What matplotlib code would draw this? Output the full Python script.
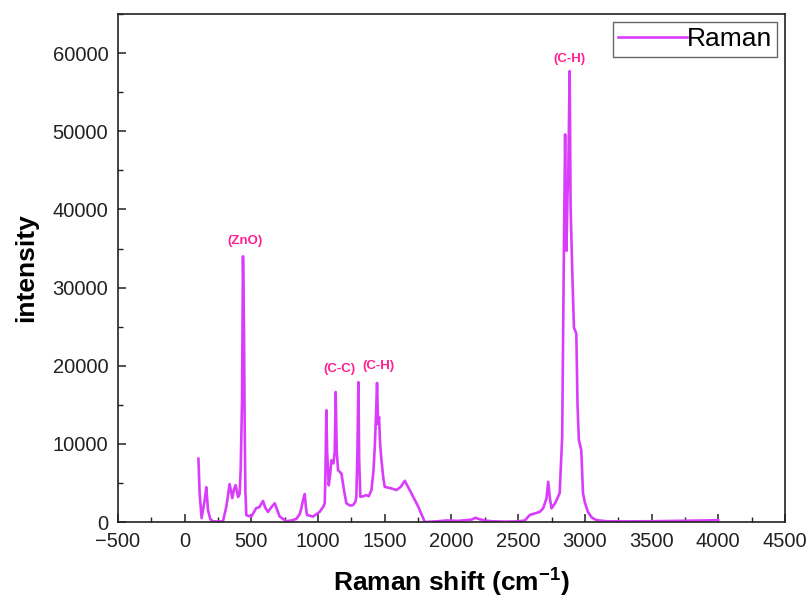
import matplotlib
matplotlib.use('Agg')
import matplotlib.pyplot as plt
from matplotlib.ticker import MultipleLocator

plt.rcParams['font.family'] = ['Liberation Sans', 'DejaVu Sans']
plt.rcParams['mathtext.fontset'] = 'custom'
plt.rcParams['mathtext.rm'] = 'Liberation Sans'
plt.rcParams['mathtext.bf'] = 'Liberation Sans:bold'

# Raman spectrum
shift = [103, 108, 112, 127, 150, 162, 175, 192, 212, 250, 287, 312, 325, 337, 357,
         370, 382, 400, 412, 420, 430, 437, 441, 445, 450, 455, 462, 475, 500, 537,
         560, 587, 605, 625, 650, 675, 695, 712, 762, 800, 837, 862, 875, 890, 900,
         908, 917, 962, 1012, 1040, 1050, 1055, 1062, 1068, 1080, 1090, 1100, 1115,
         1125, 1132, 1140, 1150, 1175, 1195, 1212, 1240, 1262, 1280, 1287, 1295,
         1302, 1308, 1317, 1340, 1362, 1380, 1400, 1415, 1425, 1435, 1442, 1450,
         1457, 1465, 1475, 1490, 1500, 1550, 1587, 1620, 1650, 1687, 1750, 1800,
         1850, 1900, 1962, 2050, 2112, 2150, 2180, 2200, 2250, 2300, 2400, 2500,
         2550, 2587, 2625, 2662, 2687, 2712, 2725, 2738, 2750, 2780, 2811, 2830,
         2842, 2852, 2857, 2862, 2870, 2875, 2880, 2886, 2893, 2906, 2918, 2936,
         2945, 2955, 2973, 2986, 3000, 3023, 3050, 3086, 3161, 3300, 3500, 3700,
         3900, 4000]
intensity = [8100, 5500, 3700, 500, 2800, 4450, 1500, 380, 100, 50, 100, 1950, 3500,
             4850, 3060, 4200, 4720, 3200, 3600, 6900, 15600, 34000, 30000, 23700,
             12000, 4000, 900, 800, 700, 1800, 1900, 2700, 1800, 1300, 1900, 2400,
             1500, 700, 100, 200, 400, 1000, 1800, 3000, 3580, 2000, 900, 700, 1300,
             2000, 2400, 6000, 14300, 9000, 4700, 6000, 7900, 7500, 9000, 16640,
             9000, 6640, 6200, 4000, 2400, 2100, 2170, 2600, 3230, 9000, 17900,
             8000, 3230, 3300, 3450, 3300, 4090, 6500, 9600, 14000, 17800, 12500,
             13450, 10000, 7900, 5500, 4500, 4300, 4090, 4500, 5280, 4090, 2000, 0,
             50, 100, 200, 150, 250, 300, 550, 400, 200, 100, 50, 80, 200, 900,
             1100, 1300, 1750, 3000, 5150, 3000, 1750, 2500, 3700, 10900, 33450,
             49600, 40000, 34700, 42000, 43700, 50000, 57700, 40300, 31800, 24900,
             24100, 15000, 10500, 9200, 3700, 2500, 1300, 600, 250, 100, 80, 100,
             150, 200, 250]

peak_labels = ['(ZnO)', '(C-C)', '(C-H)', '(C-H)']
peak_x = [450, 1162, 1455, 2886]
peak_y = [35900, 19540, 19920, 59200]

fig = plt.figure(figsize=(8.12, 5.99), dpi=100)
ax = fig.add_axes([0.1453, 0.1285, 0.8214, 0.848])

ax.plot(shift, intensity, color='#d93dfb', lw=1.9, label='Raman')

for lab, px, py in zip(peak_labels, peak_x, peak_y):
    ax.text(px, py, lab, color='#ff2090', fontsize=9.5, fontweight='bold',
            ha='center', va='center')

ax.set_xlim(-500, 4500)
ax.set_ylim(0, 65000)
ax.xaxis.set_major_locator(MultipleLocator(500))
ax.xaxis.set_minor_locator(MultipleLocator(250))
ax.yaxis.set_major_locator(MultipleLocator(10000))
ax.yaxis.set_minor_locator(MultipleLocator(5000))
ax.tick_params(which='both', direction='in', labelsize=14.5, colors='#222222')
ax.tick_params(which='major', length=6, width=1.1, pad=7)
ax.tick_params(which='minor', length=3.5, width=1.0)
ax.set_yticks([0, 10000, 20000, 30000, 40000, 50000, 60000])
for sp in ax.spines.values():
    sp.set_linewidth(1.2)
    sp.set_color('#222222')

ax.set_xlabel(r'Raman shift (cm$^{\mathbf{-1}}$)', fontsize=19, fontweight='bold', labelpad=10)
ax.set_ylabel('intensity', fontsize=19, fontweight='bold', labelpad=10)

leg = ax.legend(loc='upper right', fontsize=19, frameon=True, fancybox=False,
                handlelength=2.6, handletextpad=0.0, borderpad=0.2,
                borderaxespad=0.3, framealpha=1)
leg.get_frame().set_edgecolor('#666666')
leg.get_frame().set_linewidth(1.0)

fig.savefig('out.png', dpi=100)
